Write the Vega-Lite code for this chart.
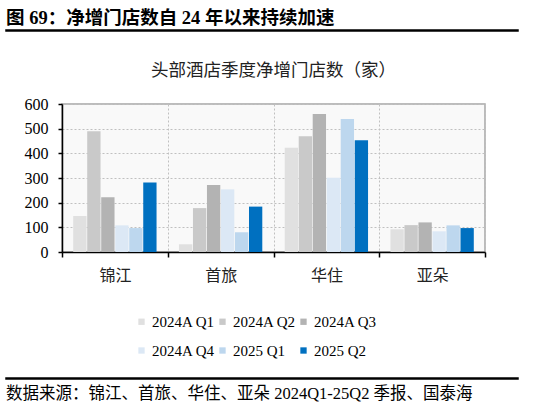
{
  "$schema": "https://vega.github.io/schema/vega-lite/v6.json",
  "background": "white",
  "padding": {"left": 5, "right": 5, "top": 8, "bottom": 4},
  "config": {
    "view": {"stroke": null},
    "font": "Liberation Serif, Noto Sans CJK SC"
  },
  "spacing": 11,
  "vconcat": [
    {
      "spacing": 23,
      "vconcat": [
        {
          "width": 512,
          "height": 1,
          "view": {"stroke": "black", "strokeWidth": 1.5},
          "title": {
            "text": "图 69：净增门店数自 24 年以来持续加速",
            "anchor": "start",
            "fontSize": 18.5,
            "fontWeight": "bold",
            "font": "Liberation Serif, Noto Sans CJK SC",
            "color": "black",
            "offset": -3
          },
          "data": {"values": [{}]},
          "mark": {"type": "text", "text": ""},
          "encoding": {}
        },
        {
          "spacing": 0,
          "hconcat": [
            {
              "width": 1,
              "height": 148,
              "data": {"values": [{}]},
              "mark": {"type": "text", "text": ""},
              "encoding": {}
            },
            {
              "width": 423,
              "height": 148,
              "view": {"stroke": "#a6a6a6", "strokeWidth": 1.5, "fill": "#f9f9f9"},
              "title": {
                "text": "头部酒店季度净增门店数（家）",
                "fontSize": 17.5,
                "fontWeight": "normal",
                "font": "Noto Sans CJK SC",
                "color": "#222222",
                "anchor": "middle",
                "offset": 17
              },
              "data": {
                "values": [
                  {"hotel": "锦江", "period": "2024A Q1", "value": 146},
                  {"hotel": "锦江", "period": "2024A Q2", "value": 490},
                  {"hotel": "锦江", "period": "2024A Q3", "value": 222},
                  {"hotel": "锦江", "period": "2024A Q4", "value": 108},
                  {"hotel": "锦江", "period": "2025 Q1", "value": 97},
                  {"hotel": "锦江", "period": "2025 Q2", "value": 282},
                  {"hotel": "首旅", "period": "2024A Q1", "value": 31},
                  {"hotel": "首旅", "period": "2024A Q2", "value": 178},
                  {"hotel": "首旅", "period": "2024A Q3", "value": 272},
                  {"hotel": "首旅", "period": "2024A Q4", "value": 254},
                  {"hotel": "首旅", "period": "2025 Q1", "value": 80},
                  {"hotel": "首旅", "period": "2025 Q2", "value": 184},
                  {"hotel": "华住", "period": "2024A Q1", "value": 423},
                  {"hotel": "华住", "period": "2024A Q2", "value": 469},
                  {"hotel": "华住", "period": "2024A Q3", "value": 559},
                  {"hotel": "华住", "period": "2024A Q4", "value": 301},
                  {"hotel": "华住", "period": "2025 Q1", "value": 539},
                  {"hotel": "华住", "period": "2025 Q2", "value": 453},
                  {"hotel": "亚朵", "period": "2024A Q1", "value": 92},
                  {"hotel": "亚朵", "period": "2024A Q2", "value": 109},
                  {"hotel": "亚朵", "period": "2024A Q3", "value": 120},
                  {"hotel": "亚朵", "period": "2024A Q4", "value": 84},
                  {"hotel": "亚朵", "period": "2025 Q1", "value": 108},
                  {"hotel": "亚朵", "period": "2025 Q2", "value": 97}
                ]
              },
              "mark": {"type": "bar"},
              "encoding": {
                "x": {
                  "field": "hotel",
                  "type": "nominal",
                  "sort": ["锦江", "首旅", "华住", "亚朵"],
                  "scale": {"paddingInner": 0, "paddingOuter": 0},
                  "axis": {
                    "title": null,
                    "labelAngle": 0,
                    "tickBand": "extent",
                    "grid": true,
                    "gridDash": [2, 2],
                    "gridColor": "#c0c0c0",
                    "domainColor": "black",
                    "domainWidth": 1.5,
                    "tickColor": "black",
                    "tickWidth": 1.5,
                    "tickSize": 5,
                    "labelFont": "Noto Sans CJK SC",
                    "labelFontSize": 16,
                    "labelColor": "#222222",
                    "labelPadding": 10
                  }
                },
                "xOffset": {
                  "field": "period",
                  "type": "nominal",
                  "scale": {
                    "domain": ["2024A Q1", "2024A Q2", "2024A Q3", "2024A Q4", "2025 Q1", "2025 Q2"],
                    "paddingInner": 0.05,
                    "paddingOuter": 0.8
                  }
                },
                "y": {
                  "field": "value",
                  "type": "quantitative",
                  "scale": {"domain": [0, 600], "nice": false},
                  "axis": {
                    "title": null,
                    "values": [0, 100, 200, 300, 400, 500, 600],
                    "grid": true,
                    "gridDash": [2, 2],
                    "gridColor": "#c0c0c0",
                    "domainColor": "black",
                    "domainWidth": 1.5,
                    "tickColor": "black",
                    "tickWidth": 1.5,
                    "tickSize": 4,
                    "labelFont": "Liberation Serif",
                    "labelFontSize": 16,
                    "labelColor": "black",
                    "labelPadding": 10,
                    "minExtent": 54
                  }
                },
                "color": {
                  "field": "period",
                  "type": "nominal",
                  "scale": {
                    "domain": ["2024A Q1", "2024A Q2", "2024A Q3", "2024A Q4", "2025 Q1", "2025 Q2"],
                    "range": ["#e0e0e0", "#c9c9c9", "#b3b3b3", "#dce8f5", "#bdd7ee", "#0070c0"]
                  },
                  "legend": {
                    "title": null,
                    "orient": "none",
                    "legendX": 72,
                    "legendY": 210,
                    "direction": "horizontal",
                    "columns": 3,
                    "symbolType": "square",
                    "symbolSize": 40,
                    "symbolStrokeWidth": 0,
                    "labelFont": "Liberation Serif",
                    "labelFontSize": 15,
                    "labelColor": "black",
                    "labelOffset": 3,
                    "columnPadding": 0,
                    "rowPadding": 13
                  }
                }
              }
            }
          ],
          "resolve": {"legend": {"color": "independent"}}
        }
      ],
      "resolve": {"legend": {"color": "independent"}}
    },
    {
      "width": 512,
      "height": 1,
      "view": {"stroke": "black", "strokeWidth": 1.5},
      "title": {
        "text": "数据来源：锦江、首旅、华住、亚朵 2024Q1-25Q2 季报、国泰海",
        "orient": "bottom",
        "anchor": "start",
        "fontSize": 16.5,
        "fontWeight": "normal",
        "font": "Liberation Serif, Noto Sans CJK SC",
        "color": "black",
        "offset": 2
      },
      "data": {"values": [{}]},
      "mark": {"type": "text", "text": ""},
      "encoding": {}
    }
  ],
  "resolve": {"legend": {"color": "independent"}}
}
